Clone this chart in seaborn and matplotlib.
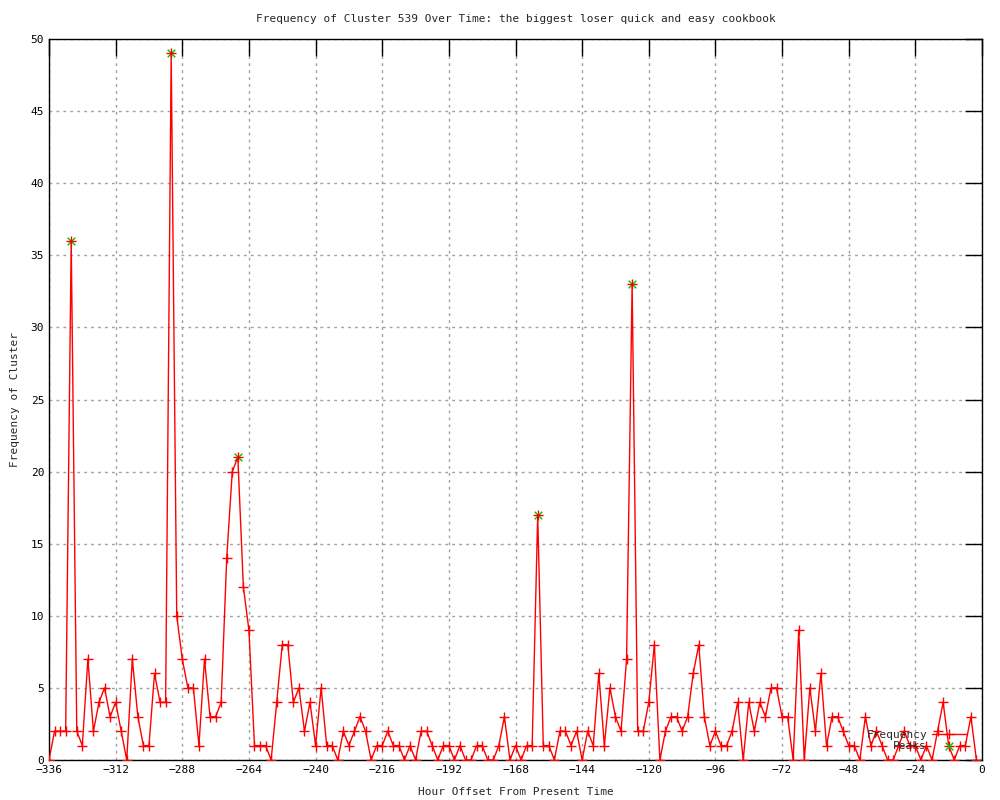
import numpy as np
import pandas as pd
import matplotlib
matplotlib.use("Agg")
import matplotlib.pyplot as plt
import seaborn as sns

# datos (cada 2 horas, de -336 a -2)
horas = np.arange(-336, 0, 2)
frecuencia = [
    0, 2, 2, 2, 36, 2, 1, 7, 2, 4, 5, 3, 4, 2, 0, 7, 3, 1, 1, 6,
    4, 4, 49, 10, 7, 5, 5, 1, 7, 3, 3, 4, 14, 20, 21, 12, 9, 1, 1, 1,
    0, 4, 8, 8, 4, 5, 2, 4, 1, 5, 1, 1, 0, 2, 1, 2, 3, 2, 0, 1,
    1, 2, 1, 1, 0, 1, 0, 2, 2, 1, 0, 1, 1, 0, 1, 0, 0, 1, 1, 0,
    0, 1, 3, 0, 1, 0, 1, 1, 17, 1, 1, 0, 2, 2, 1, 2, 0, 2, 1, 6,
    1, 5, 3, 2, 7, 33, 2, 2, 4, 8, 0, 2, 3, 3, 2, 3, 6, 8, 3, 1,
    2, 1, 1, 2, 4, 0, 4, 2, 4, 3, 5, 5, 3, 3, 0, 9, 0, 5, 2, 6,
    1, 3, 3, 2, 1, 1, 0, 3, 1, 2, 1, 0, 0, 1, 2, 1, 1, 0, 1, 0,
    2, 4, 1, 0, 1, 1, 3, 0,
]
picos_horas = [-328, -292, -268, -160, -126]
picos_valores = [36, 49, 21, 17, 33]
xticks = list(range(-336, 1, 24))
yticks = list(range(0, 51, 5))

df = pd.DataFrame({"hora": horas, "freq": frecuencia})
df_picos = pd.DataFrame({"hora": picos_horas, "freq": picos_valores})

sns.set_style("white")
plt.rcParams['font.family'] = ['DejaVu Sans Mono']

fig = plt.figure(figsize=(10, 8), dpi=100)
ax = fig.add_axes([0.049, 0.05, 0.933, 0.90125])

sns.scatterplot(data=df_picos, x="hora", y="freq", ax=ax, color="#00c000",
                marker="x", s=30, linewidth=1, label="Peaks", zorder=2)
sns.lineplot(data=df, x="hora", y="freq", ax=ax, color="red", linewidth=1,
             marker="+", markersize=7, markeredgewidth=1, markeredgecolor="red",
             label="Frequency", zorder=3)

ax.set_xlim(-336, 0)
ax.set_ylim(0, 50)
ax.set_xticks(xticks)
ax.set_yticks(yticks)
ax.tick_params(direction="in", length=12, width=1, labelsize=8,
               top=True, right=True, labeltop=False, labelright=False, colors="black")
ax.grid(True, color="#a0a0a0", linestyle=(0, (2, 3)), linewidth=1)
ax.set_axisbelow(True)
for s in ax.spines.values():
    s.set_color("black")
    s.set_linewidth(1)

ax.set_title("Frequency of Cluster 539 Over Time: the biggest loser quick and easy cookbook",
             fontsize=8, pad=12)
ax.set_xlabel("Hour Offset From Present Time", fontsize=8, labelpad=9)
ax.set_ylabel("Frequency of Cluster", fontsize=8, labelpad=8)

h, l = ax.get_legend_handles_labels()
orden = [l.index("Frequency"), l.index("Peaks")]
ax.legend([h[i] for i in orden], [l[i] for i in orden],
          loc="lower right", bbox_to_anchor=(0.99, 0.005), frameon=False,
          markerfirst=False, fontsize=8, handlelength=3.2, borderpad=0,
          labelspacing=0.1, handletextpad=0.4)

plt.savefig("out.png", dpi=100)
